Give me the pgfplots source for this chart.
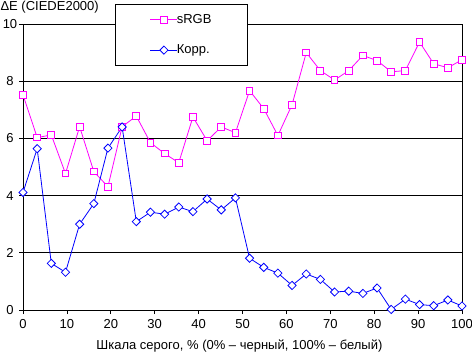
\documentclass[border=0pt]{standalone}
\usepackage{fontspec}
\setmainfont{Liberation Sans}
\usepackage{pgfplots}
\pgfplotsset{compat=1.18}
\definecolor{mag}{RGB}{255,0,255}
\definecolor{blu}{RGB}{0,0,255}
\begin{document}
\begin{tikzpicture}[x=1bp,y=1bp]
\path[use as bounding box] (0,0) rectangle (472,353);
\begin{axis}[
  at={(23bp,43bp)}, anchor=south west, scale only axis,
  width=439bp, height=286bp,
  xmin=0, xmax=100, ymin=0, ymax=10,
  xtick={0,10,...,100}, ytick={0,2,...,10},
  tick align=outside, major tick length=4bp,
  xtick pos=bottom, ytick pos=left,
  tick style={black, line width=0.8bp},
  ymajorgrids, grid style={black, line width=0.8bp},
  axis line style={black, line width=0.8bp},
  clip=false,
  font=\fontsize{13bp}{15bp}\selectfont,
  /pgf/number format/assume math mode=true,
  yticklabel style={anchor=center, xshift=-9bp},
  xticklabel style={anchor=center, yshift=-10bp},
  legend style={at={(rel axis cs:0.2096,1.07)}, anchor=north west,
    draw=black, fill=white, line width=0.8bp, inner sep=0pt, row sep=0pt,
    font=\fontsize{13bp}{15bp}\selectfont},
  legend cell align=left,
  legend image code/.code={%
    \pgfpathrectangle{\pgfpoint{-35bp}{-15.25bp}}{\pgfpoint{62bp}{30.5bp}}\pgfusepath{}%
    \draw[mark repeat=2,mark phase=2,#1] plot coordinates {(0bp,0bp) (13.5bp,0bp) (27bp,0bp)};},
]
\addplot[mag, line width=0.8bp, mark=square*, mark size=3.4bp,
  mark options={fill=white, draw=mag, line width=1bp}] coordinates {
(0,7.52) (3.23,6.03) (6.45,6.12) (9.68,4.77) (12.90,6.41) (16.13,4.84)
(19.35,4.31) (22.58,6.41) (25.81,6.78) (29.03,5.85) (32.26,5.47) (35.48,5.15)
(38.71,6.75) (41.94,5.92) (45.16,6.40) (48.39,6.20) (51.61,7.67) (54.84,7.04)
(58.06,6.10) (61.29,7.18) (64.52,9.00) (67.74,8.37) (70.97,8.04) (74.19,8.37)
(77.42,8.90) (80.65,8.72) (83.87,8.33) (87.10,8.37) (90.32,9.37) (93.55,8.61)
(96.77,8.47) (100,8.75)};
\addlegendentry{\makebox[66bp][l]{\hspace{-3bp}sRGB}}
\addplot[blu, line width=0.8bp, mark=square*, mark size=2.9bp,
  mark options={rotate=45, fill=white, draw=blu, line width=0.8bp}] coordinates {
(0,4.11) (3.23,5.64) (6.45,1.63) (9.68,1.32) (12.90,3.00) (16.13,3.72)
(19.35,5.66) (22.58,6.40) (25.81,3.09) (29.03,3.42) (32.26,3.35) (35.48,3.60)
(38.71,3.44) (41.94,3.88) (45.16,3.50) (48.39,3.92) (51.61,1.81) (54.84,1.49)
(58.06,1.29) (61.29,0.86) (64.52,1.26) (67.74,1.07) (70.97,0.63) (74.19,0.66)
(77.42,0.58) (80.65,0.77) (83.87,0.02) (87.10,0.38) (90.32,0.19) (93.55,0.15)
(96.77,0.35) (100,0.14)};
\addlegendentry{\makebox[66bp][l]{\hspace{-3bp}Корр.}}
\node[anchor=base east, inner sep=0pt] at (rel axis cs:0.1731,1.0455) {ΔE (CIEDE2000)};
\node[anchor=base, inner sep=0pt] at (rel axis cs:0.493,-0.1364) {Шкала серого, \% (0\% – черный, 100\% – белый)};
\end{axis}
\end{tikzpicture}
\end{document}
